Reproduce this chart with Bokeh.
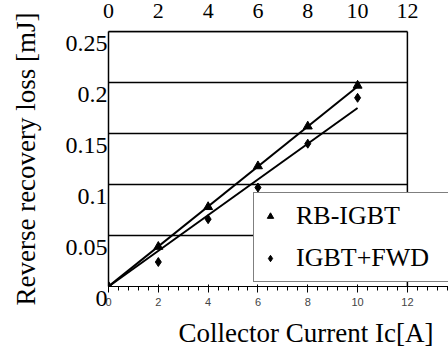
from bokeh.plotting import figure
from bokeh.models import Range1d, Legend, LegendItem, Title, FixedTicker, LinearAxis
from bokeh.embed import file_html
from bokeh.resources import INLINE

# data
current = [0, 2, 4, 6, 8, 10]
rb_igbt = [0, 0.039, 0.078, 0.118, 0.157, 0.197]
igbt_fwd = [0, 0.024, 0.066, 0.097, 0.140, 0.185]
fit_x = [0, 10]
rb_fit = [0, 0.196]
fwd_fit = [0, 0.175]
x_ticks = [0, 2, 4, 6, 8, 10, 12]
y_ticks = [0, 0.05, 0.1, 0.15, 0.2, 0.25]
y_tick_labels = ["0", "0.05", "0.1", "0.15", "0.2", "0.25"]
series_names = ["RB-IGBT", "IGBT+FWD"]
x_title = "Collector Current Ic[A]"
y_title = "Reverse recovery loss [mJ]"

FONT = "Liberation Serif"
X_LIM = x_ticks[-1]
Y_LIM = y_ticks[-1]

p = figure(width=448, height=360, output_backend="svg", toolbar_location=None,
           x_range=Range1d(0, 13.65), y_range=Range1d(0, Y_LIM),
           min_border_left=108, min_border_right=0, min_border_top=25,
           min_border_bottom=74)
p.title.visible = False
p.background_fill_color = "white"
p.border_fill_color = "white"
p.outline_line_color = None
p.xgrid.visible = False
p.ygrid.visible = False

# horizontal rules and the right border of the box
for gy in y_ticks[1:]:
    p.line([0, X_LIM], [gy, gy], line_color="black", line_width=1.5)
p.line([X_LIM, X_LIM], [0, Y_LIM], line_color="black", line_width=1.5)

# top border of the box, drawn as a bare axis line above the frame
top = LinearAxis(ticker=FixedTicker(ticks=[]), bounds=(0, X_LIM),
                 axis_line_color="black", axis_line_width=1.5,
                 major_tick_line_color=None, minor_tick_line_color=None,
                 major_label_standoff=0, major_label_text_font_size="1px")
p.add_layout(top, "above")

xa = p.xaxis[0]
xa.bounds = (0, X_LIM)
xa.ticker = FixedTicker(ticks=x_ticks)
xa.major_tick_in = 6
xa.major_tick_out = 0
xa.minor_tick_line_color = None
xa.major_tick_line_width = 1.5
xa.axis_line_width = 1.5
xa.major_label_standoff = 14
xa.major_label_text_font = FONT
xa.major_label_text_font_size = "22px"
xa.major_label_text_color = "black"

ya = p.yaxis[0]
ya.bounds = (0, Y_LIM)
ya.ticker = FixedTicker(ticks=y_ticks)
ya.major_label_overrides = {t: "\n" + s for t, s in zip(y_ticks, y_tick_labels)}
ya.major_label_text_line_height = 0.9
ya.major_tick_in = 0
ya.major_tick_out = 0
ya.minor_tick_line_color = None
ya.axis_line_width = 1.5
ya.major_label_standoff = 1
ya.major_label_text_font = FONT
ya.major_label_text_font_size = "24px"
ya.major_label_text_color = "black"
ya.axis_label = y_title
ya.axis_label_text_font = FONT
ya.axis_label_text_font_size = "27px"
ya.axis_label_text_font_style = "normal"
ya.axis_label_text_color = "black"
ya.axis_label_standoff = 22

p.add_layout(Title(text=x_title, align="right", offset=15, standoff=14,
                   text_font=FONT, text_font_size="27px",
                   text_font_style="normal", text_color="black"), "below")

p.line(fit_x, rb_fit, line_color="black", line_width=2)
p.line(fit_x, fwd_fit, line_color="black", line_width=2)
r1 = p.scatter(current, rb_igbt, marker="triangle", size=9,
               fill_color="black", line_color="black")
r2 = p.scatter(current, igbt_fwd, marker="diamond", size=9,
               fill_color="black", line_color="black")

legend = Legend(items=[LegendItem(label=series_names[0], renderers=[r1]),
                       LegendItem(label=series_names[1], renderers=[r2])],
                location=(145, 4), padding=8, spacing=12,
                label_height=30, glyph_height=30, glyph_width=16,
                label_standoff=18, label_width=200,
                label_text_font=FONT, label_text_font_size="26px",
                label_text_color="black",
                border_line_color="black", border_line_width=1.5,
                background_fill_color="white", background_fill_alpha=1.0,
                margin=0)
p.add_layout(legend, "center")

open("out.html", "w").write(file_html(p, INLINE))
